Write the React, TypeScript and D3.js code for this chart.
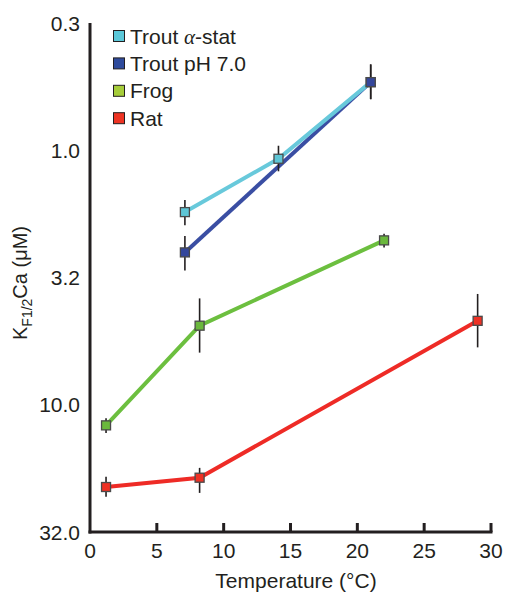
import React from "react";
import * as d3 from "d3";

const xTickValues = [5, 10, 15, 20, 25, 30];
const xTickLabels = ["0", "5", "10", "15", "20", "25", "30"];
const xLabelValues = [0, 5, 10, 15, 20, 25, 30];
const yTickValues = [Math.pow(10, -0.5), 1, Math.pow(10, 0.5), 10, Math.pow(10, 1.5)];
const yTickLabels = ["0.3", "1.0", "3.2", "10.0", "32.0"];

const seriesNames = ["Trout α-stat", "Trout pH 7.0", "Frog", "Rat"];
const lineColors = ["#68c9db", "#3a4ea3", "#6cbf3f", "#ee2b26"];
const markerColors = ["#5ec6d6", "#34479c", "#6ab83c", "#ee3124"];
const legendColors = ["#5cc8d9", "#2f4b9c", "#a6cd3a", "#ee3424"];

const troutAlphaTemp = [7.1, 14.1, 21];
const troutAlphaK = [1.75, 1.08, 0.54];
const troutAlphaLo = [1.57, 0.96, 0.46];
const troutAlphaHi = [1.97, 1.21, 0.63];

const troutPHTemp = [7.1, 21];
const troutPHK = [2.52, 0.54];
const troutPHLo = [2.17, 0.46];
const troutPHHi = [2.97, 0.63];

const frogTemp = [1.2, 8.2, 22];
const frogK = [12.05, 4.89, 2.26];
const frogLo = [11.3, 3.82, 2.13];
const frogHi = [12.9, 6.24, 2.41];

const ratTemp = [1.2, 8.2, 29];
const ratK = [21.05, 19.35, 4.68];
const ratLo = [19.2, 17.7, 3.67];
const ratHi = [23.0, 22.2, 5.95];

const series = [
  { t: troutAlphaTemp, k: troutAlphaK, lo: troutAlphaLo, hi: troutAlphaHi },
  { t: troutPHTemp, k: troutPHK, lo: troutPHLo, hi: troutPHHi },
  { t: frogTemp, k: frogK, lo: frogLo, hi: frogHi },
  { t: ratTemp, k: ratK, lo: ratLo, hi: ratHi },
];

const W = 512;
const H = 594;
const font = "'Liberation Sans', Arial, Helvetica, sans-serif";

export default function App() {
  const x = d3.scaleLinear().domain([0, 30]).range([90, 491]);
  const y = d3.scaleLog().domain([Math.pow(10, -0.5), Math.pow(10, 1.5)]).range([23, 532]);
  const line = d3
    .line<[number, number]>()
    .x((d) => x(d[0]))
    .y((d) => y(d[1]));

  const drawOrder = [3, 2, 1, 0];
  const markerOrder = [3, 2, 0, 1];
  const ms = 9;

  return (
    <svg
      width={W}
      height={H}
      style={{ position: "absolute", left: 0, top: 0, background: "#fff" }}
      fontFamily={font}
    >
      {/* axes */}
      <line x1={x(0)} x2={x(0)} y1={y.range()[0]} y2={y.range()[1] + 1.5} stroke="#231f20" strokeWidth={3} />
      <line x1={x(0) - 1.5} x2={x(30) + 1.5} y1={y.range()[1]} y2={y.range()[1]} stroke="#231f20" strokeWidth={3} />
      {xTickValues.map((v) => (
        <line key={"xt" + v} x1={x(v)} x2={x(v)} y1={y.range()[1]} y2={y.range()[1] - 9} stroke="#231f20" strokeWidth={3} />
      ))}
      {xLabelValues.map((v, i) => (
        <text key={"xl" + v} x={x(v)} y={558} textAnchor="middle" fontSize={21} fill="#231f20">
          {xTickLabels[i]}
        </text>
      ))}
      {yTickValues.map((v, i) => (
        <text key={"yl" + i} x={80} y={y(v) + 7.5} textAnchor="end" fontSize={21} fill="#231f20">
          {yTickLabels[i]}
        </text>
      ))}
      <text x={296} y={588} textAnchor="middle" fontSize={21} fill="#231f20">
        Temperature (°C)
      </text>
      <text transform="translate(27,283) rotate(-90)" textAnchor="middle" fontSize={20} fill="#231f20">
        K
        <tspan fontSize={14} dy={5}>F1/2</tspan>
        <tspan dy={-5}>Ca (μM)</tspan>
      </text>

      {/* lines */}
      {drawOrder.map((si) => {
        const s = series[si];
        const pts: [number, number][] = s.t.map((t, j) => [t, s.k[j]]);
        return <path key={"ln" + si} d={line(pts) || ""} fill="none" stroke={lineColors[si]} strokeWidth={4} />;
      })}
      {/* error bars */}
      {drawOrder.map((si) => {
        const s = series[si];
        return s.t.map((t, j) => (
          <line key={"eb" + si + "-" + j} x1={x(t)} x2={x(t)} y1={y(s.lo[j])} y2={y(s.hi[j])} stroke="#231f20" strokeWidth={1.6} />
        ));
      })}
      {/* markers */}
      {markerOrder.map((si) => {
        const s = series[si];
        return s.t.map((t, j) => (
          <rect
            key={"mk" + si + "-" + j}
            x={x(t) - ms / 2}
            y={y(s.k[j]) - ms / 2}
            width={ms}
            height={ms}
            fill={markerColors[si]}
            stroke="#4a4a4a"
            strokeWidth={1.3}
          />
        ));
      })}

      {/* legend */}
      {seriesNames.map((name, i) => {
        const cy = 36 + i * 27.4;
        const alphaParts = name.split("α");
        return (
          <g key={"lg" + i}>
            <rect x={113.5} y={cy - 5.5} width={11} height={11} fill={legendColors[i]} stroke="#231f20" strokeWidth={1} />
            <text x={130} y={cy + 7.5} fontSize={21} fill="#231f20">
              {alphaParts.length > 1 ? (
                <>
                  {alphaParts[0]}
                  <tspan fontFamily="'Liberation Serif', 'DejaVu Serif', serif" fontStyle="italic">α</tspan>
                  {alphaParts[1]}
                </>
              ) : (
                name
              )}
            </text>
          </g>
        );
      })}
    </svg>
  );
}
